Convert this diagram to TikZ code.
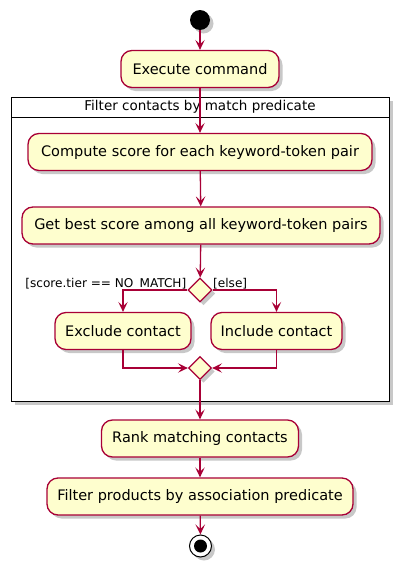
\documentclass[tikz,border=0pt]{standalone}
\usepackage{fontspec}
\setmainfont{DejaVu Sans}
\usetikzlibrary{arrows.meta,shadows,shapes.geometric}
\definecolor{umlred}{HTML}{A80036}
\definecolor{umlfill}{HTML}{FEFECE}
\definecolor{shadowgrey}{HTML}{C8C8C8}
\begin{document}
\begin{tikzpicture}[x=1pt,y=-1pt,
  umlshadow/.style={drop shadow={shadow xshift=3.5pt,shadow yshift=-3.5pt,fill=shadowgrey,opacity=1}},
  act/.style={rectangle,rounded corners=11pt,draw=umlred,fill=umlfill,line width=1.3pt,
    minimum height=37pt,inner sep=0pt,font=\fontsize{14.5}{17}\selectfont,umlshadow},
  dec/.style={diamond,draw=umlred,fill=umlfill,line width=1.3pt,minimum width=24pt,minimum height=24pt,
    inner sep=0pt,aspect=1,umlshadow},
  flow/.style={draw=umlred,line width=1.3pt,-{Stealth[length=10pt,width=9.5pt,inset=4.5pt]}},
  guard/.style={font=\fontsize{12.1}{14}\selectfont,inner sep=0pt},
  ttl/.style={font=\fontsize{13.5}{15}\selectfont,inner sep=0pt}]
\useasboundingbox (0,0) rectangle (405,573);
% partition frame
\fill[shadowgrey] (15,101) rectangle (393,405);
\draw[fill=white,line width=1pt] (11.5,97) rectangle (389,401);
\draw[line width=1pt] (11.5,117) -- (389,117);
\node[ttl] (title) at (200,107) {Filter contacts by match predicate};
% nodes
\node[circle,fill=black,minimum size=20pt,inner sep=0pt,umlshadow] (start) at (200,20) {};
\node[act,minimum width=158pt] (exec) at (200,69) {Execute command};
\node[act,minimum width=344pt] (comp) at (200,152) {Compute score for each keyword-token pair};
\node[act,minimum width=358pt] (best) at (201,225.5) {Get best score among all keyword-token pairs};
\node[dec] (d1) at (200,290) {};
\node[act,minimum width=136pt] (excl) at (123,331) {Exclude contact};
\node[act,minimum width=131pt] (incl) at (276.5,331) {Include contact};
\node[dec,minimum width=23pt,minimum height=23pt] (d2) at (200,368) {};
\node[act,minimum width=197pt] (rank) at (200,438.5) {Rank matching contacts};
\node[act,minimum width=306pt] (filt) at (200,496.5) {Filter products by association predicate};
\node[circle,draw=black,fill=white,line width=1pt,minimum size=22pt,inner sep=0pt,umlshadow] (stop) at (200.5,546) {};
\node[circle,fill=black,minimum size=13pt,inner sep=0pt] (stopin) at (stop.center) {};
% guards
\node[guard,anchor=east] (g1) at (186.5,284) {[score.tier == NO\_MATCH]};
\node[guard,anchor=west] (g2) at (213,284) {[else]};
% connectors
\draw[flow] (start) -- (exec);
\draw[flow] (exec) -- (comp);
\draw[flow] (comp) -- (best);
\draw[flow] (best) -- (d1);
\draw[flow] (d1.west) -| (excl.north);
\draw[flow] (d1.east) -| (incl.north);
\draw[flow] (excl.south) |- (d2.west);
\draw[flow] (incl.south) |- (d2.east);
\draw[flow] (d2) -- (rank);
\draw[flow] (rank) -- (filt);
\draw[flow] (filt) -- (stop);
\end{tikzpicture}
\end{document}
